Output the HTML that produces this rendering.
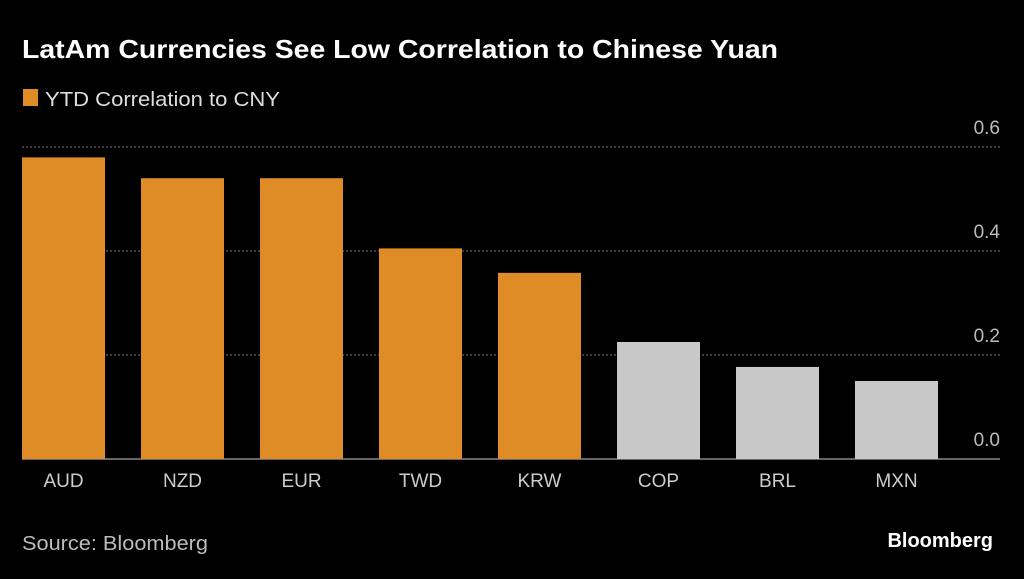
<!DOCTYPE html>
<html><head><meta charset="utf-8"><style>
body{margin:0;background:#000;width:1024px;height:574px;overflow:hidden;font-family:"Liberation Sans",sans-serif;}
</style></head><body>
<svg width="1024" height="574" xmlns="http://www.w3.org/2000/svg">
<rect width="1024" height="574" fill="#000"/>
<text x="22" y="58" fill="#fff" font-size="26" font-weight="bold" textLength="756" lengthAdjust="spacingAndGlyphs">LatAm Currencies See Low Correlation to Chinese Yuan</text>
<rect x="23" y="89" width="15" height="17" fill="#e08c26"/>
<text x="45" y="106" fill="#ddd" font-size="20" textLength="235" lengthAdjust="spacingAndGlyphs">YTD Correlation to CNY</text>
<g id="grid"></g><g id="bars"></g><g id="labels"></g>
<text x="22" y="550" fill="#bbb" font-size="20" textLength="186" lengthAdjust="spacingAndGlyphs">Source: Bloomberg</text>
<text x="993" y="547" fill="#fff" font-size="20" font-weight="bold" text-anchor="end">Bloomberg</text>
</svg>
<script>
const categories=["AUD","NZD","EUR","TWD","KRW","COP","BRL","MXN"];
const values=[0.58,0.54,0.54,0.405,0.358,0.225,0.177,0.15];
const highlighted=[true,true,true,true,true,false,false,false];
const ticks=[0,0.2,0.4,0.6];
const tickLabels=["0.0","0.2","0.4","0.6"];
const NS="http://www.w3.org/2000/svg";
const y=v=>459-v*520;
const x=i=>22+i*119;
function mk(t,a,p){const e=document.createElementNS(NS,t);for(const k in a)e.setAttribute(k,a[k]);p.appendChild(e);return e;}
const g=document.getElementById('grid'),b=document.getElementById('bars'),l=document.getElementById('labels');
ticks.forEach((t,i)=>{
 const ln=mk('line',{x1:22,x2:1000,y1:y(t),y2:y(t),stroke:t===0?'#ccc':'#777','stroke-width':1,'stroke-dasharray':t===0?'':'2,2'},g);
 
 
 const tx=mk('text',{x:1000,y:y(t)-13,fill:'#bbb','font-size':19,'text-anchor':'end'},g);
 tx.textContent=tickLabels[i];
 
 
});
categories.forEach((c,i)=>{
 const r=mk('rect',{x:x(i),y:y(values[i]),width:83,height:459-y(values[i]),fill:highlighted[i]?'#e08c26':'#c8c8c8'},b);
 
 
 const t=mk('text',{x:x(i)+41.5,y:487,fill:'#ccc','font-size':19,'text-anchor':'middle'},l);
 t.textContent=c;
 
 
});
</script>
</body></html>
